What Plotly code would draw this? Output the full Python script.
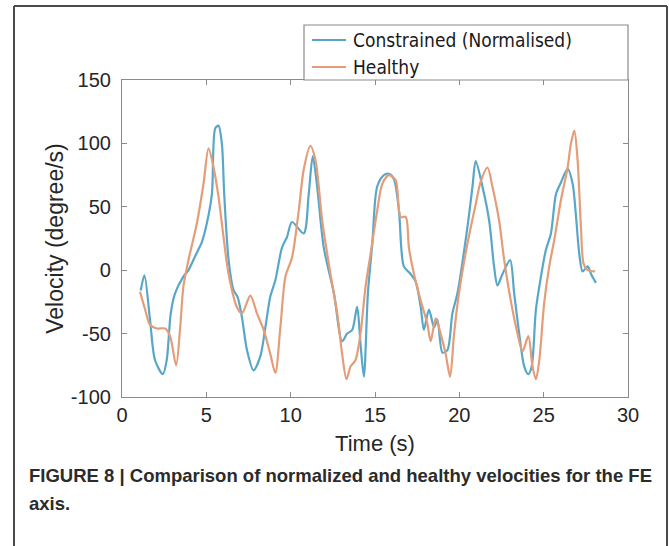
import plotly.graph_objects as go

# ---- data ----
t_constrained = [1.11,1.33,1.66,1.96,2.42,2.65,2.89,3.15,3.64,3.94,
                 4.44,4.73,5.03,5.33,5.53,5.72,5.92,6.06,6.32,6.62,
                 6.85,7.11,7.41,7.8,8.2,8.5,8.79,9.09,9.49,9.78,
                 10.08,10.77,11.07,11.31,11.57,11.96,12.56,13.05,13.35,13.65,
                 13.94,14.14,14.34,14.58,14.84,15.13,15.53,15.82,16.12,16.42,
                 16.71,17.11,17.41,17.71,17.9,18.2,18.5,18.7,19.0,19.29,
                 19.59,19.89,20.48,20.78,20.97,21.37,21.77,22.06,22.26,22.56,
                 23.01,23.25,23.55,23.85,24.09,24.29,24.54,24.84,25.13,25.43,
                 25.73,26.02,26.42,26.72,26.92,27.11,27.31,27.61,27.81,28.1]
v_constrained = [-16,-4,-39,-71,-82,-71,-34,-18,-5,0,
                 14,22,37,60,112,114,100,60,8,-16,
                 -21,-37,-63,-79,-68,-45,-21,-8,18,26,
                 38,29,60,90,66,18,-18,-56,-50,-47,
                 -29,-58,-84,-18,21,66,75,76,72,47,
                 3,-3,-9,-29,-47,-31,-45,-39,-65,-63,
                 -34,-18,34,66,86,66,39,3,-12,-3,
                 8,-18,-50,-76,-82,-76,-31,-5,16,29,
                 60,69,80,68,42,13,-1,3,-3,-10]

t_healthy = [1.07,1.37,1.66,2.06,2.55,2.85,3.21,3.45,3.64,3.94,
             4.44,4.83,5.13,5.43,5.72,6.02,6.32,6.81,7.11,7.61,
             8.0,8.4,8.79,9.09,9.39,9.69,10.08,10.48,10.77,11.17,
             11.47,11.87,12.36,12.76,13.05,13.31,13.55,13.84,14.14,14.44,
             14.74,15.13,15.43,15.82,16.22,16.52,16.82,17.01,17.31,17.71,
             18.1,18.3,18.6,18.89,19.19,19.45,19.69,19.98,20.48,20.97,
             21.27,21.67,21.96,22.36,22.66,23.05,23.45,23.75,24.09,24.34,
             24.54,24.74,25.03,25.33,25.63,26.02,26.42,26.62,26.82,27.01,
             27.21,27.37,27.61,28.05]
v_healthy = [-17,-31,-43,-46,-46,-52,-75,-45,-13,8,
             37,68,96,81,58,26,-3,-29,-34,-20,
             -34,-47,-66,-81,-45,-5,10,47,79,98,
             87,39,-3,-34,-66,-86,-76,-71,-50,-13,
             13,47,68,75,71,42,42,18,-3,-24,
             -42,-56,-38,-50,-66,-84,-50,-18,21,52,
             70,81,66,39,8,-24,-50,-64,-52,-76,
             -86,-71,-26,3,24,55,81,100,110,87,
             34,5,0,-1]

series_names = ["Constrained (Normalised)", "Healthy"]
series_colors = ["#58a7c9", "#e49d78"]
x_ticks = [0, 5, 10, 15, 20, 25, 30]
x_tick_labels = ["0", "5", "10", "15", "20", "25", "30"]
y_ticks = [-100, -50, 0, 50, 100, 150]
y_tick_labels = ["-100", "-50", "0", "50", "100", "150"]
caption_line1 = "FIGURE 8 | Comparison of normalized and healthy velocities for the FE"
caption_line2 = "axis."

# ---- layout geometry (pixels) ----
W, H = 669, 546
L, R, T, B = 122, 628, 80, 397
PW, PH = R - L, B - T


def px(x):
    return (x - L) / PW


def py(y):
    return (B - y) / PH


fig = go.Figure()
for t, v, name, col in [(t_constrained, v_constrained, series_names[0], series_colors[0]),
                        (t_healthy, v_healthy, series_names[1], series_colors[1])]:
    fig.add_trace(go.Scatter(x=t, y=v, mode="lines", name=name,
                             line=dict(color=col, width=2.2, shape="spline", smoothing=0.8),
                             showlegend=False))

FONT = "Liberation Sans, Arial, sans-serif"
axis_common = dict(showline=True, mirror="ticks", linecolor="#8a8a8a", linewidth=1.2,
                   ticks="inside", ticklen=5, tickcolor="#8a8a8a", showgrid=False,
                   zeroline=False,
                   tickfont=dict(family=FONT, size=20, color="#262626"))

fig.update_layout(
    width=W, height=H,
    margin=dict(l=L, r=W - R, t=T, b=H - B),
    paper_bgcolor="white", plot_bgcolor="white",
    xaxis=dict(range=[0, 30], tickvals=x_ticks, ticktext=x_tick_labels, **axis_common,
               title=dict(text="Time (s)", standoff=10,
                          font=dict(family=FONT, size=22, color="#262626"))),
    yaxis=dict(range=[-100, 150], tickvals=y_ticks, ticktext=y_tick_labels, ticklabelstandoff=6,
               **axis_common,
               title=dict(text="Velocity (degree/s)", standoff=0,
                          font=dict(family=FONT, size=23, color="#262626"))),
    showlegend=False,
)

shapes = []
# outer figure frame (left, top, right)
frame = dict(type="line", xref="paper", yref="paper", line=dict(color="#4a4a4a", width=2))
shapes.append(dict(frame, x0=px(14), x1=px(14), y0=py(6), y1=py(H + 5)))
shapes.append(dict(frame, x0=px(14), x1=px(667), y0=py(6), y1=py(6)))
shapes.append(dict(frame, x0=px(667), x1=px(667), y0=py(6), y1=py(H + 5)))
# legend box
shapes.append(dict(type="rect", xref="paper", yref="paper", x0=px(304), x1=px(628),
                   y0=py(80), y1=py(25), line=dict(color="#8a8a8a", width=1.2),
                   fillcolor="white", layer="above"))
legend_rows = [40, 67]
annotations = []
for name, col, yy in zip(series_names, series_colors, legend_rows):
    shapes.append(dict(type="line", xref="paper", yref="paper", x0=px(312), x1=px(346),
                       y0=py(yy), y1=py(yy), line=dict(color=col, width=2), layer="above"))
    annotations.append(dict(xref="paper", yref="paper", x=px(351), y=py(yy), text=name,
                            showarrow=False, xanchor="left", yanchor="middle",
                            font=dict(family="DejaVu Sans Condensed, Liberation Sans Narrow, Arial", size=19,
                                      color="#1a1a1a")))

for txt, yy in [(caption_line1, 475), (caption_line2, 503)]:
    annotations.append(dict(xref="paper", yref="paper", x=px(27), y=py(yy), text="<b>" + txt + "</b>",
                            showarrow=False, xanchor="left", yanchor="middle",
                            font=dict(family=FONT, size=18.5, color="#2b2b2b")))

fig.update_layout(shapes=shapes, annotations=annotations)
fig.write_html("out.html")
